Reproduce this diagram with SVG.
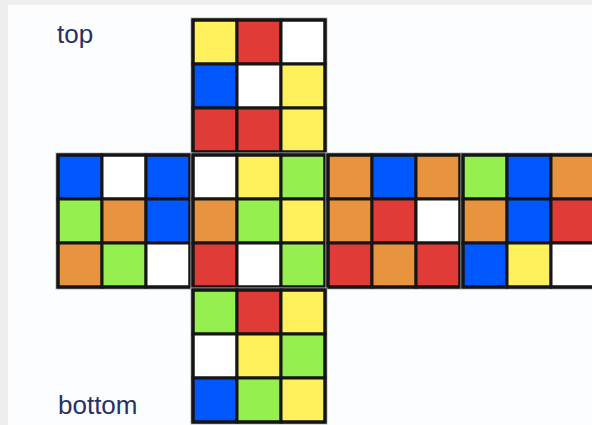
<svg xmlns="http://www.w3.org/2000/svg" width="592" height="425" viewBox="0 0 592 425">
<style>
.lbl{font-family:"Liberation Sans",Arial,sans-serif;font-size:26px;fill:#283068}
.c{stroke:#151515;stroke-width:3}
.halo{fill:none;stroke:#b8b8b8;stroke-width:5}
.edge{fill:none;stroke:#151515;stroke-width:3}
.Y{fill:#fef15c}.R{fill:#e03b37}.W{fill:#ffffff}.B{fill:#0057fd}.G{fill:#94ef4f}.O{fill:#e8943f}
</style>
<rect x="0" y="0" width="592" height="425" fill="#eeeeee"/>
<rect x="8" y="5" width="584" height="420" fill="#fbfdfe"/>
<g id="label-top"><text class="lbl" x="57" y="43">top</text></g>
<g id="label-bottom"><text class="lbl" x="58" y="414">bottom</text></g>
<g id="face-top" transform="translate(193,20)">
<rect class="halo" x="0" y="0" width="132" height="132"/>
<rect class="c Y" x="0" y="0" width="44" height="44"/><rect class="c R" x="44" y="0" width="44" height="44"/><rect class="c W" x="88" y="0" width="44" height="44"/>
<rect class="c B" x="0" y="44" width="44" height="44"/><rect class="c W" x="44" y="44" width="44" height="44"/><rect class="c Y" x="88" y="44" width="44" height="44"/>
<rect class="c R" x="0" y="88" width="44" height="44"/><rect class="c R" x="44" y="88" width="44" height="44"/><rect class="c Y" x="88" y="88" width="44" height="44"/>
<rect class="edge" x="0" y="0" width="132" height="132"/>
</g>
<g id="face-left" transform="translate(58,155)">
<rect class="halo" x="0" y="0" width="132" height="132"/>
<rect class="c B" x="0" y="0" width="44" height="44"/><rect class="c W" x="44" y="0" width="44" height="44"/><rect class="c B" x="88" y="0" width="44" height="44"/>
<rect class="c G" x="0" y="44" width="44" height="44"/><rect class="c O" x="44" y="44" width="44" height="44"/><rect class="c B" x="88" y="44" width="44" height="44"/>
<rect class="c O" x="0" y="88" width="44" height="44"/><rect class="c G" x="44" y="88" width="44" height="44"/><rect class="c W" x="88" y="88" width="44" height="44"/>
<rect class="edge" x="0" y="0" width="132" height="132"/>
</g>
<g id="face-front" transform="translate(193,155)">
<rect class="halo" x="0" y="0" width="132" height="132"/>
<rect class="c W" x="0" y="0" width="44" height="44"/><rect class="c Y" x="44" y="0" width="44" height="44"/><rect class="c G" x="88" y="0" width="44" height="44"/>
<rect class="c O" x="0" y="44" width="44" height="44"/><rect class="c G" x="44" y="44" width="44" height="44"/><rect class="c Y" x="88" y="44" width="44" height="44"/>
<rect class="c R" x="0" y="88" width="44" height="44"/><rect class="c W" x="44" y="88" width="44" height="44"/><rect class="c G" x="88" y="88" width="44" height="44"/>
<rect class="edge" x="0" y="0" width="132" height="132"/>
</g>
<g id="face-right" transform="translate(328,155)">
<rect class="halo" x="0" y="0" width="132" height="132"/>
<rect class="c O" x="0" y="0" width="44" height="44"/><rect class="c B" x="44" y="0" width="44" height="44"/><rect class="c O" x="88" y="0" width="44" height="44"/>
<rect class="c O" x="0" y="44" width="44" height="44"/><rect class="c R" x="44" y="44" width="44" height="44"/><rect class="c W" x="88" y="44" width="44" height="44"/>
<rect class="c R" x="0" y="88" width="44" height="44"/><rect class="c O" x="44" y="88" width="44" height="44"/><rect class="c R" x="88" y="88" width="44" height="44"/>
<rect class="edge" x="0" y="0" width="132" height="132"/>
</g>
<g id="face-back" transform="translate(463,155)">
<rect class="halo" x="0" y="0" width="132" height="132"/>
<rect class="c G" x="0" y="0" width="44" height="44"/><rect class="c B" x="44" y="0" width="44" height="44"/><rect class="c O" x="88" y="0" width="44" height="44"/>
<rect class="c O" x="0" y="44" width="44" height="44"/><rect class="c B" x="44" y="44" width="44" height="44"/><rect class="c R" x="88" y="44" width="44" height="44"/>
<rect class="c B" x="0" y="88" width="44" height="44"/><rect class="c Y" x="44" y="88" width="44" height="44"/><rect class="c W" x="88" y="88" width="44" height="44"/>
<rect class="edge" x="0" y="0" width="132" height="132"/>
</g>
<g id="face-bottom" transform="translate(193,290)">
<rect class="halo" x="0" y="0" width="132" height="132"/>
<rect class="c G" x="0" y="0" width="44" height="44"/><rect class="c R" x="44" y="0" width="44" height="44"/><rect class="c Y" x="88" y="0" width="44" height="44"/>
<rect class="c W" x="0" y="44" width="44" height="44"/><rect class="c Y" x="44" y="44" width="44" height="44"/><rect class="c G" x="88" y="44" width="44" height="44"/>
<rect class="c B" x="0" y="88" width="44" height="44"/><rect class="c G" x="44" y="88" width="44" height="44"/><rect class="c Y" x="88" y="88" width="44" height="44"/>
<rect class="edge" x="0" y="0" width="132" height="132"/>
</g>
</svg>
